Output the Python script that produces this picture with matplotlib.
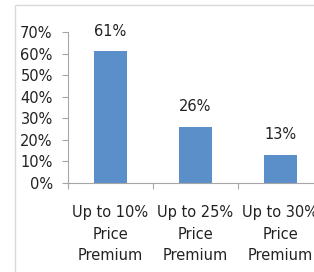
import matplotlib.pyplot as plt
from matplotlib.patches import Rectangle
import numpy as np

# Data
categories = ['Up to 10%\nPrice\nPremium', 'Up to 25%\nPrice\nPremium', 'Up to 30%\nPrice\nPremium']
values = [61, 26, 13]
y_ticks = [0, 10, 20, 30, 40, 50, 60, 70]

W, H = 314, 272
fig = plt.figure(figsize=(W / 100, H / 100), dpi=100)

# chart frame (cropped on the right and bottom)
fig.patches.append(Rectangle((15 / W, -0.5), 2, (H - 5) / H + 0.5,
                             transform=fig.transFigure, fill=False,
                             edgecolor='#d9d9d9', linewidth=1))

ax = fig.add_axes([68 / W, (H - 183) / H, 255 / W, 151 / H])

x = np.arange(len(values))
ax.bar(x, values, width=0.39, color='#5b8fca')
for xi, v in zip(x, values):
    ax.annotate(f'{v}%', (xi, v), xytext=(0, 9), textcoords='offset points',
                ha='center', va='bottom', fontsize=10.5, color='#222222')

ax.set_xlim(-0.5, len(values) - 0.5)
ax.set_ylim(0, 70)
ax.set_yticks(y_ticks)
ax.set_yticklabels([f'{t}%' for t in y_ticks])
ax.set_xticks(x)
ax.set_xticklabels(categories, linespacing=1.55)
ax.set_xticks(np.arange(len(values) + 1) - 0.5, minor=True)

for s in ['top', 'right']:
    ax.spines[s].set_visible(False)
for s in ['left', 'bottom']:
    ax.spines[s].set_color('#a6a6a6')
    ax.spines[s].set_linewidth(0.8)

ax.tick_params(axis='y', length=4, width=0.8, color='#a6a6a6', pad=7,
               labelsize=10.5, labelcolor='#222222')
ax.tick_params(axis='x', which='major', length=0, pad=16,
               labelsize=10.5, labelcolor='#222222')
ax.tick_params(axis='x', which='minor', length=4, width=0.8, color='#a6a6a6')

fig.savefig('out.png', dpi=100)
